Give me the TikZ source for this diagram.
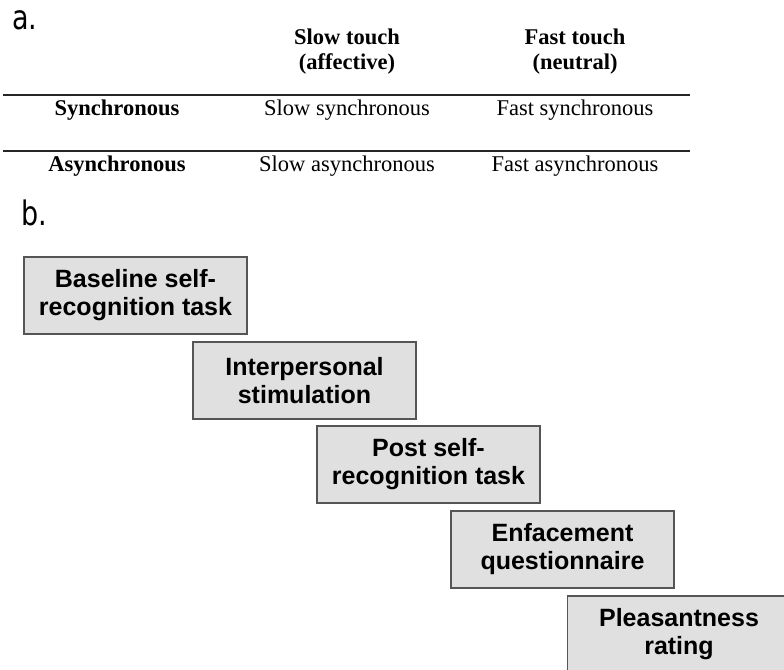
\documentclass[tikz,border=0pt]{standalone}
\usepackage{fontspec}
\setmainfont{Liberation Sans}
\newfontfamily\tabfont{Liberation Serif}
\newfontfamily\labfont{DejaVu Sans}
\definecolor{boxfill}{HTML}{E0E0E0}
\definecolor{boxline}{HTML}{555555}
\tikzset{
  stagebox/.style={draw=boxline, fill=boxfill, line width=1.6pt, rectangle,
    minimum width=223pt, minimum height=77pt, inner sep=0pt, align=center,
    font=\fontsize{25}{28}\selectfont\bfseries},
  tabtext/.style={anchor=base, inner sep=0pt, font=\tabfont\fontsize{22.5}{24}\selectfont},
  tabhead/.style={tabtext, font=\tabfont\fontsize{22.5}{24}\selectfont\bfseries},
  rulel/.style={line width=2pt, black!85},
  panel/.style={anchor=base west, inner sep=0pt, font=\labfont\fontsize{27}{30}\selectfont}
}
\begin{document}
\begin{tikzpicture}[x=1pt,y=-1pt]
\useasboundingbox (0,0) rectangle (784,669);
\clip (0,0) rectangle (784,669);
% panel labels
\node[panel] (la) at (12,30) {\scalebox{1}[1.25]{a.}};
\node[panel] (lb) at (21,225) {\scalebox{1}[1.25]{b.}};
% table
\node[tabhead] (h1a) at (347,45) {Slow touch};
\node[tabhead] (h1b) at (347,70) {(affective)};
\node[tabhead] (h2a) at (575,45) {Fast touch};
\node[tabhead] (h2b) at (575,70) {(neutral)};
\coordinate (r1l) at (3,95);
\coordinate (r1r) at (690,95);
\coordinate (r2l) at (3,151);
\coordinate (r2r) at (690,151);
\draw[rulel] (r1l) -- (r1r);
\draw[rulel] (r2l) -- (r2r);
\node[tabhead] (s0) at (117,115) {Synchronous};
\node[tabtext] (s1) at (347,115) {Slow synchronous};
\node[tabtext] (s2) at (575,115) {Fast synchronous};
\node[tabhead] (a0) at (117,171) {Asynchronous};
\node[tabtext] (a1) at (347,171) {Slow asynchronous};
\node[tabtext] (a2) at (575,171) {Fast asynchronous};
% stages
\node[stagebox] (b1) at (135.5,295.5) {Baseline self-\\recognition task};
\node[stagebox] (b2) at (304.5,380.5) {Interpersonal\\stimulation};
\node[stagebox] (b3) at (428.5,464.5) {Post self-\\recognition task};
\node[stagebox] (b4) at (562.5,549.5) {Enfacement\\questionnaire};
\node[stagebox] (b5) at (679,634.5) {Pleasantness\\rating};
\end{tikzpicture}
\end{document}
